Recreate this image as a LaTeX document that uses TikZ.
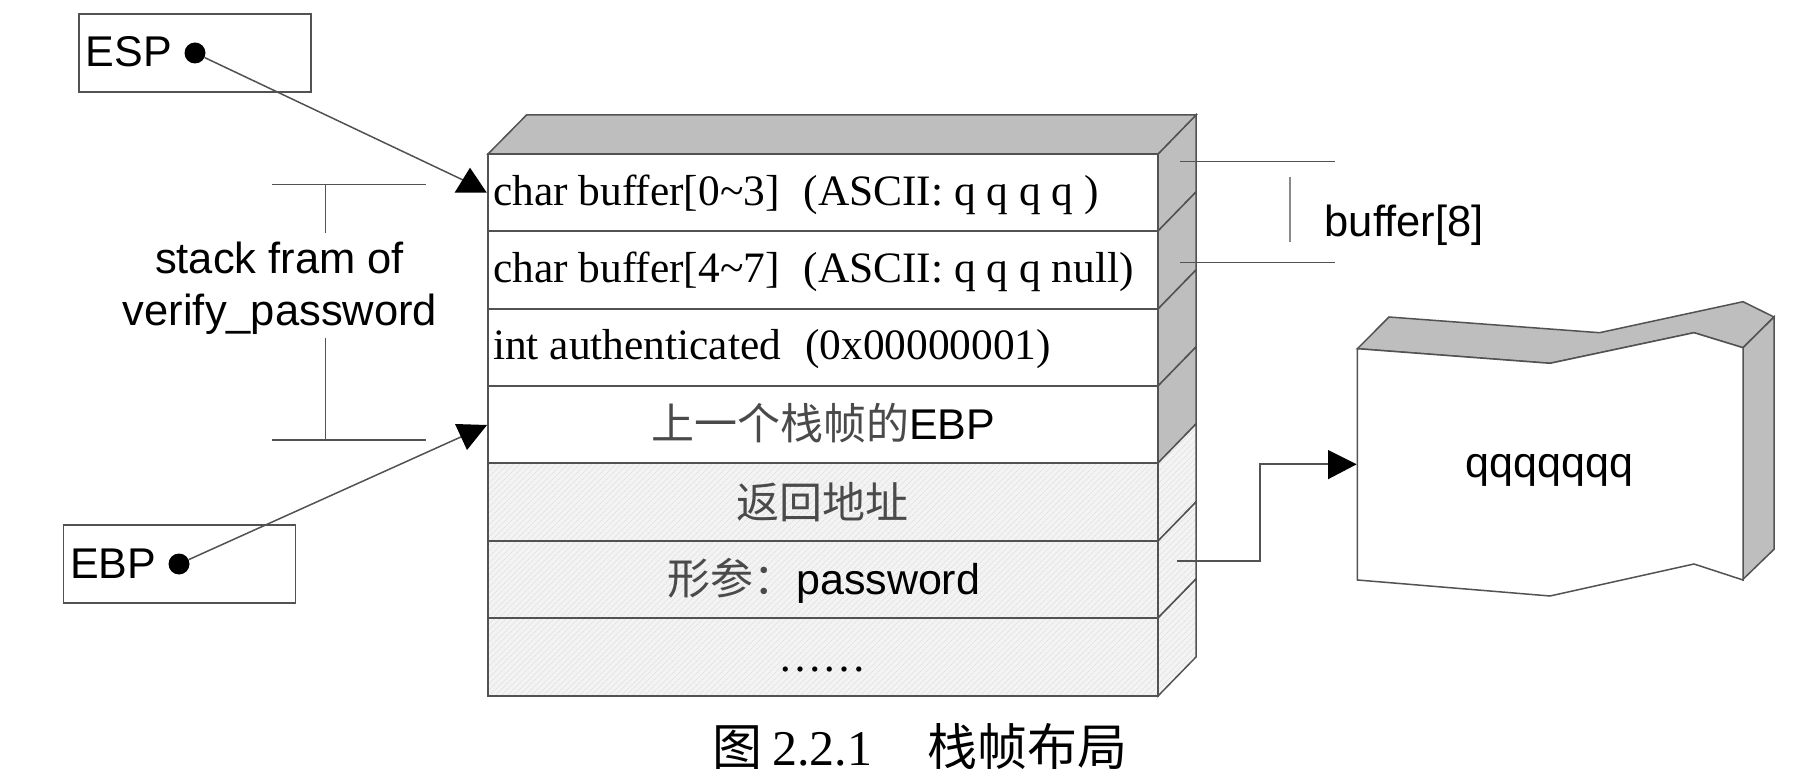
\documentclass[tikz,border=0pt]{standalone}
\usepackage{fontspec}
\setmainfont{Liberation Serif}
\setsansfont{Liberation Sans}
\newfontfamily\cjkf{Noto Sans CJK SC}
\usetikzlibrary{patterns.meta}
\definecolor{lnc}{HTML}{525252}
\definecolor{lnl}{HTML}{8A8A8A}
\definecolor{sidec}{HTML}{BEBEBE}
\definecolor{hatchbg}{HTML}{F3F3F3}
\definecolor{hatchln}{HTML}{E2E2E2}
\definecolor{cjkc}{HTML}{4A4A4A}
\newcommand{\fsz}[1]{\fontsize{#1}{#1}\selectfont}
\tikzset{
  ln/.style={draw=lnc,line width=1.5pt,line join=miter},
  side/.style={ln,fill=sidec},
  white face/.style={ln,fill=white},
  hatched/.style={ln,preaction={fill=hatchbg},pattern={Lines[angle=45,distance=4pt,line width=.7pt]},pattern color=hatchln},
  head/.style={fill=black,draw=none},
  dotm/.style={circle,fill=black,inner sep=0pt,minimum size=21pt},
  regbox/.style={ln,fill=white,rectangle,inner sep=0pt},
  sanslab/.style={font=\sffamily\fsz{43},text=black,inner sep=0pt},
  seriflab/.style={font=\fsz{43.4},text=black,inner sep=0pt,anchor=base west},
  mixlab/.style={font=\sffamily\fsz{43},text=black,inner sep=0pt,anchor=base west},
}
\begin{document}
\begin{tikzpicture}[x=1pt,y=-1pt]
\useasboundingbox (0,0) rectangle (1815,775);
% register boxes
\node[regbox,minimum width=232pt,minimum height=78pt] (espbox) at (195,53) {};
\node[regbox,minimum width=232pt,minimum height=78pt] (ebpbox) at (179.5,564) {};
\node[sanslab,anchor=base west] (esplab) at (85.5,66.5) {ESP};
\node[sanslab,anchor=base west] (ebplab) at (70,578) {EBP};
\node[dotm] (espdot) at (195,53) {};
\node[dotm] (ebpdot) at (179,564) {};
% stack: side faces
\foreach \a/\b/\st in {154/231/side,231/309/side,309/386/side,386/463/side,463/541/hatched,541/618/hatched,618/696/hatched}{
  \path[\st] (1158,\a) -- (1196,\a-39) -- (1196,\b-39) -- (1158,\b) -- cycle;
}
% top face
\path[side] (488,154) -- (526.5,115) -- (1196,115) -- (1158,154) -- cycle;
% front rows
\foreach \a/\b/\st in {154/231/white face,231/309/white face,309/386/white face,386/463/white face,463/541/hatched,541/618/hatched,618/696/hatched}{
  \path[\st] (488,\a) rectangle (1158,\b);
}
% row texts
\node[seriflab] (r1) at (493,205.5) {char buffer[0\symbol{126}3]\hspace{.55em}(ASCII: q q q q )};
\node[seriflab] (r2) at (493,282.5) {char buffer[4\symbol{126}7]\hspace{.55em}(ASCII: q q q null)};
\node[seriflab] (r3) at (493,360) {int authenticated\hspace{.55em}(0x00000001)};
\node[mixlab] (r4) at (651,439) {{\cjkf\color{cjkc}上一个栈帧的}EBP};
\node[mixlab] (r5) at (736,518) {{\cjkf\color{cjkc}返回地址}};
\node[mixlab] (r6) at (667,594) {{\cjkf\color{cjkc}形参：}password};
\node[seriflab,font=\fsz{44}] (r7) at (778,671) {……};
% caption
\node[inner sep=0pt,anchor=base west] (cap) at (712,765) {\fsz{50}{\cjkf 图}\hspace{.2em}2.2.1\hspace{1.11em}{\cjkf 栈帧布局}};
% frame label and its bracket
\coordinate (ftl) at (272,184.5);
\coordinate (ftr) at (426,184.5);
\coordinate (fbl) at (272,440);
\coordinate (fbr) at (426,440);
\coordinate (ftm) at (325.7,184.5);
\coordinate (fbm) at (325.7,440);
\node[font=\sffamily\fsz{43.5},inner sep=0pt,anchor=base] (fram1) at (279.5,273.5) {stack fram of};
\node[font=\sffamily\fsz{43.5},inner sep=0pt,anchor=base] (fram2) at (280,326) {verify\_password};
\coordinate (fv1) at (325.7,233);
\coordinate (fv2) at (325.7,338);
\draw[ln] (ftl) -- (ftr);
\draw[ln] (fbl) -- (fbr);
\draw[ln] (ftm) -- (fv1);
\draw[ln] (fv2) -- (fbm);
% buffer bracket
\coordinate (b1l) at (1180,161.7);
\coordinate (b1r) at (1335,161.7);
\coordinate (b2l) at (1180,262.3);
\coordinate (b2r) at (1335,262.3);
\coordinate (bv1) at (1290,177);
\coordinate (bv2) at (1290,242);
\draw[ln] (b1l) -- (b1r);
\draw[ln] (b2l) -- (b2r);
\draw[ln,draw=lnl,line width=2pt] (bv1) -- (bv2);
\node[font=\sffamily\fsz{43.5},inner sep=0pt,anchor=base west] (buf) at (1324.5,236.5) {buffer[8]};
% torn sheet
\path[side] (1357.4,348.7) -- (1389,317) -- (1599.5,332.7) -- (1743,301.7) -- (1774,317) -- (1743,347.7) -- (1694,332.7) -- (1550,363.3) -- cycle;
\path[side] (1743,347.7) -- (1774,317) -- (1774,549.3) -- (1743,579.3) -- cycle;
\path[white face] (1357.4,348.7) -- (1550,363.3) -- (1694,332.7) -- (1743,347.7) -- (1743,580) -- (1694,564) -- (1550,596) -- (1357.4,580) -- cycle;
\node[font=\sffamily\fsz{43},inner sep=0pt,anchor=base] (sheet) at (1549.5,477) {qqqqqqq};
% arrows
\coordinate (espend) at (463,180);
\coordinate (ebpend) at (463,436);
\draw[ln] (espdot) -- (espend);
\draw[ln] (ebpdot) -- (ebpend);
\fill[head] (470,167.7) -- (486.8,192.7) -- (454.6,192.7) -- cycle;
\fill[head] (455,424) -- (487,425) -- (467,450) -- cycle;
\coordinate (pw) at (1177,561);
\coordinate (pwa) at (1330,464);
\draw[ln] (pw) -| (1260,464) -- (pwa);
\fill[head] (1356.6,464.3) -- (1328,479.3) -- (1328,450) -- cycle;
\end{tikzpicture}
\end{document}
